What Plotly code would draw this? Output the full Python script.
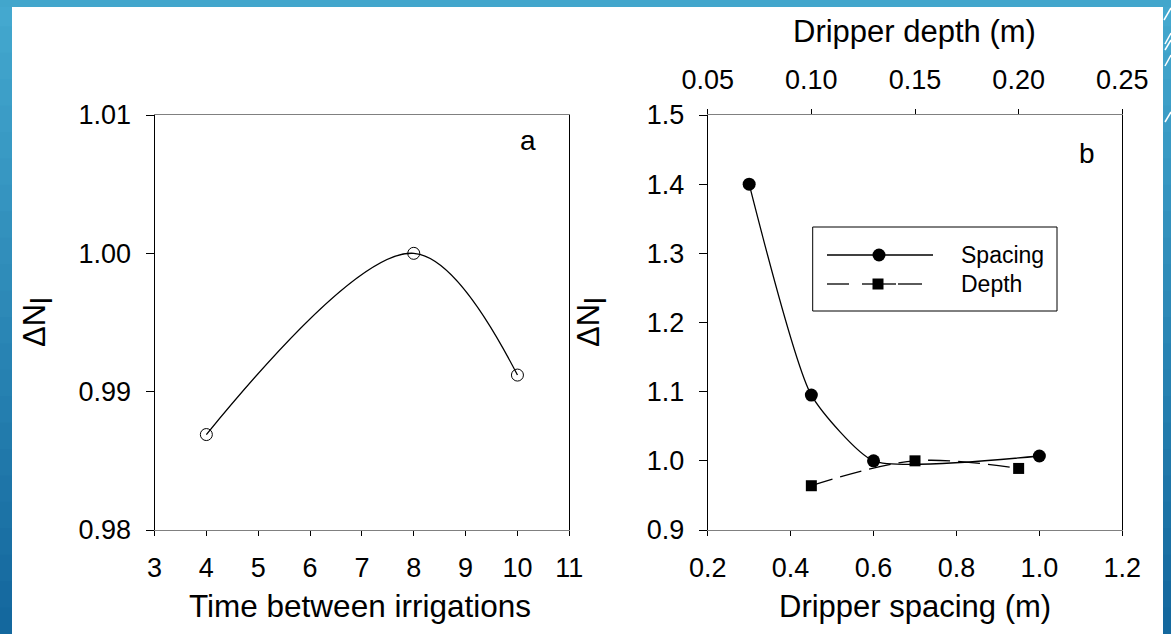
import plotly.graph_objects as go

W, H = 1171, 634

# ---------------- data ----------------
time_between = [4, 8, 10]
dn_time = [0.9869, 1.0000, 0.9912]

spacing = [0.30, 0.45, 0.60, 1.00]
dn_spacing = [1.400, 1.095, 1.000, 1.007]

depth = [0.10, 0.15, 0.20]
dn_depth = [0.964, 1.000, 0.989]

xa_ticks = [3, 4, 5, 6, 7, 8, 9, 10, 11]
ya_ticks = [0.98, 0.99, 1.00, 1.01]
xb_ticks = [0.2, 0.4, 0.6, 0.8, 1.0, 1.2]
xb_top_ticks = [0.05, 0.10, 0.15, 0.20, 0.25]
yb_ticks = [0.9, 1.0, 1.1, 1.2, 1.3, 1.4, 1.5]

FONT = "Liberation Sans, Arial, sans-serif"


def px(x):
    return x / W


def py(y):
    return 1 - y / H


xa_dom = [px(154.5), px(569.3)]
xb_dom = [px(707.7), px(1122.3)]
y_dom = [py(530), py(115)]

fig = go.Figure()

fig.add_trace(go.Scatter(
    x=time_between, y=dn_time, mode="lines+markers", xaxis="x", yaxis="y",
    line=dict(color="black", width=1.3, shape="spline", smoothing=1.0),
    marker=dict(symbol="circle-open", size=12, color="black", line=dict(width=1)),
    showlegend=False, cliponaxis=False))

fig.add_trace(go.Scatter(
    x=spacing, y=dn_spacing, mode="lines+markers", xaxis="x2", yaxis="y2",
    line=dict(color="black", width=1.3, shape="spline", smoothing=0.55),
    marker=dict(symbol="circle", size=13, color="black"),
    name="Spacing", showlegend=False, cliponaxis=False))

fig.add_trace(go.Scatter(
    x=depth, y=dn_depth, mode="lines+markers", xaxis="x3", yaxis="y2",
    line=dict(color="black", width=1.3, shape="spline", dash="22px,8px"),
    marker=dict(symbol="square", size=11, color="black"),
    name="Depth", showlegend=False, cliponaxis=False))

tickfont = dict(family=FONT, size=27, color="black")
common = dict(showgrid=False, zeroline=False, ticks="outside", tickcolor="black",
              tickwidth=1, tickfont=tickfont, automargin=False, linewidth=1,
              ticklabelstandoff=9)

fig.update_layout(
    width=W, height=H,
    margin=dict(l=0, r=0, t=0, b=0),
    paper_bgcolor="white", plot_bgcolor="white",
    xaxis=dict(domain=xa_dom, range=[3, 11], tickvals=xa_ticks, ticklen=5,
               linecolor="#808080", mirror=True, anchor="y", **common),
    yaxis=dict(domain=y_dom, range=[0.98, 1.01], tickvals=ya_ticks, tickformat=".2f",
               ticklen=8, linecolor="black", mirror=True, anchor="x", **common),
    xaxis2=dict(domain=xb_dom, range=[0.2, 1.2], tickvals=xb_ticks, tickformat=".1f",
                ticklen=5, linecolor="#808080", mirror=True, anchor="y2", **common),
    xaxis3=dict(domain=xb_dom, range=[0.05, 0.25], tickvals=xb_top_ticks, tickformat=".2f",
                ticklen=5, linecolor="#808080", side="top", overlaying="x2", anchor="y2",
                **common),
    yaxis2=dict(domain=y_dom, range=[0.9, 1.5], tickvals=yb_ticks, tickformat=".1f",
                ticklen=8, linecolor="black", mirror=True, anchor="x2", **common),
)

# ---------------- slide border (blue) ----------------
shapes = []
top_c = (0x44, 0xa8, 0xcf)
bot_c = (0x14, 0x68, 0x9e)
n = 24
for i in range(n):
    t = i / (n - 1)
    c = tuple(int(top_c[k] + (bot_c[k] - top_c[k]) * t) for k in range(3))
    col = "rgb(%d,%d,%d)" % c
    y0 = H * i / n
    y1 = H * (i + 1) / n + 1
    shapes.append(dict(type="rect", xref="paper", yref="paper", x0=px(0), x1=px(12),
                       y0=py(y1), y1=py(y0), fillcolor=col, line=dict(width=0), layer="below"))
    shapes.append(dict(type="rect", xref="paper", yref="paper", x0=px(1163), x1=px(W),
                       y0=py(y1), y1=py(y0), fillcolor=col, line=dict(width=0), layer="below"))
shapes.append(dict(type="rect", xref="paper", yref="paper", x0=0, x1=1, y0=py(7), y1=1,
                   fillcolor="rgb(66,166,204)", line=dict(width=0), layer="below"))
for (x0, y0, x1, y1) in [(1171, 8, 1164, 20), (1171, 33, 1165, 44), (1171, 40, 1165, 50),
                         (1171, 55, 1165, 66), (1171, 112, 1165, 122)]:
    shapes.append(dict(type="line", xref="paper", yref="paper", x0=px(x0), y0=py(y0),
                       x1=px(x1), y1=py(y1), line=dict(color="white", width=1.5)))

# ---------------- legend (drawn) ----------------
shapes.append(dict(type="rect", xref="paper", yref="paper", x0=px(812.7), x1=px(1057),
                   y0=py(311), y1=py(227), line=dict(color="black", width=1),
                   fillcolor="white"))
shapes.append(dict(type="line", xref="paper", yref="paper", x0=px(827), x1=px(933),
                   y0=py(255), y1=py(255), line=dict(color="black", width=1.3)))
shapes.append(dict(type="circle", xref="paper", yref="paper", xsizemode="pixel",
                   ysizemode="pixel", xanchor=px(879), yanchor=py(255),
                   x0=-6.5, x1=6.5, y0=-6.5, y1=6.5, fillcolor="black",
                   line=dict(color="black", width=0)))
for (a, b) in [(827, 849), (862, 879), (879, 896), (898, 922)]:
    shapes.append(dict(type="line", xref="paper", yref="paper", x0=px(a), x1=px(b),
                       y0=py(284), y1=py(284), line=dict(color="black", width=1.3)))
shapes.append(dict(type="rect", xref="paper", yref="paper", xsizemode="pixel",
                   ysizemode="pixel", xanchor=px(878), yanchor=py(284),
                   x0=-5.5, x1=5.5, y0=-5.5, y1=5.5, fillcolor="black",
                   line=dict(color="black", width=0)))

fig.update_layout(shapes=shapes)

# ---------------- text ----------------
ann = []


def A(text, x, y, size=31, angle=0, xanchor="center"):
    ann.append(dict(text=text, x=px(x), y=py(y), xref="paper", yref="paper",
                    showarrow=False, textangle=angle, xanchor=xanchor, yanchor="middle",
                    font=dict(family=FONT, size=size, color="black")))


A("Time between irrigations", 360, 606, size=31.5)
A("Dripper spacing (m)", 915, 606)
A("Dripper depth (m)", 914, 31)
A("ΔN<sub><span style='font-size:30px'>l</span></sub>", 38, 322, size=31, angle=-90)
A("ΔN<sub><span style='font-size:30px'>l</span></sub>", 592, 322, size=31, angle=-90)
A("a", 528, 141, size=28)
A("b", 1087, 153, size=28)
A("Spacing", 959, 255, size=23, xanchor="left")
A("Depth", 959, 284, size=23, xanchor="left")
fig.update_layout(annotations=ann)

fig.write_html("out.html")
